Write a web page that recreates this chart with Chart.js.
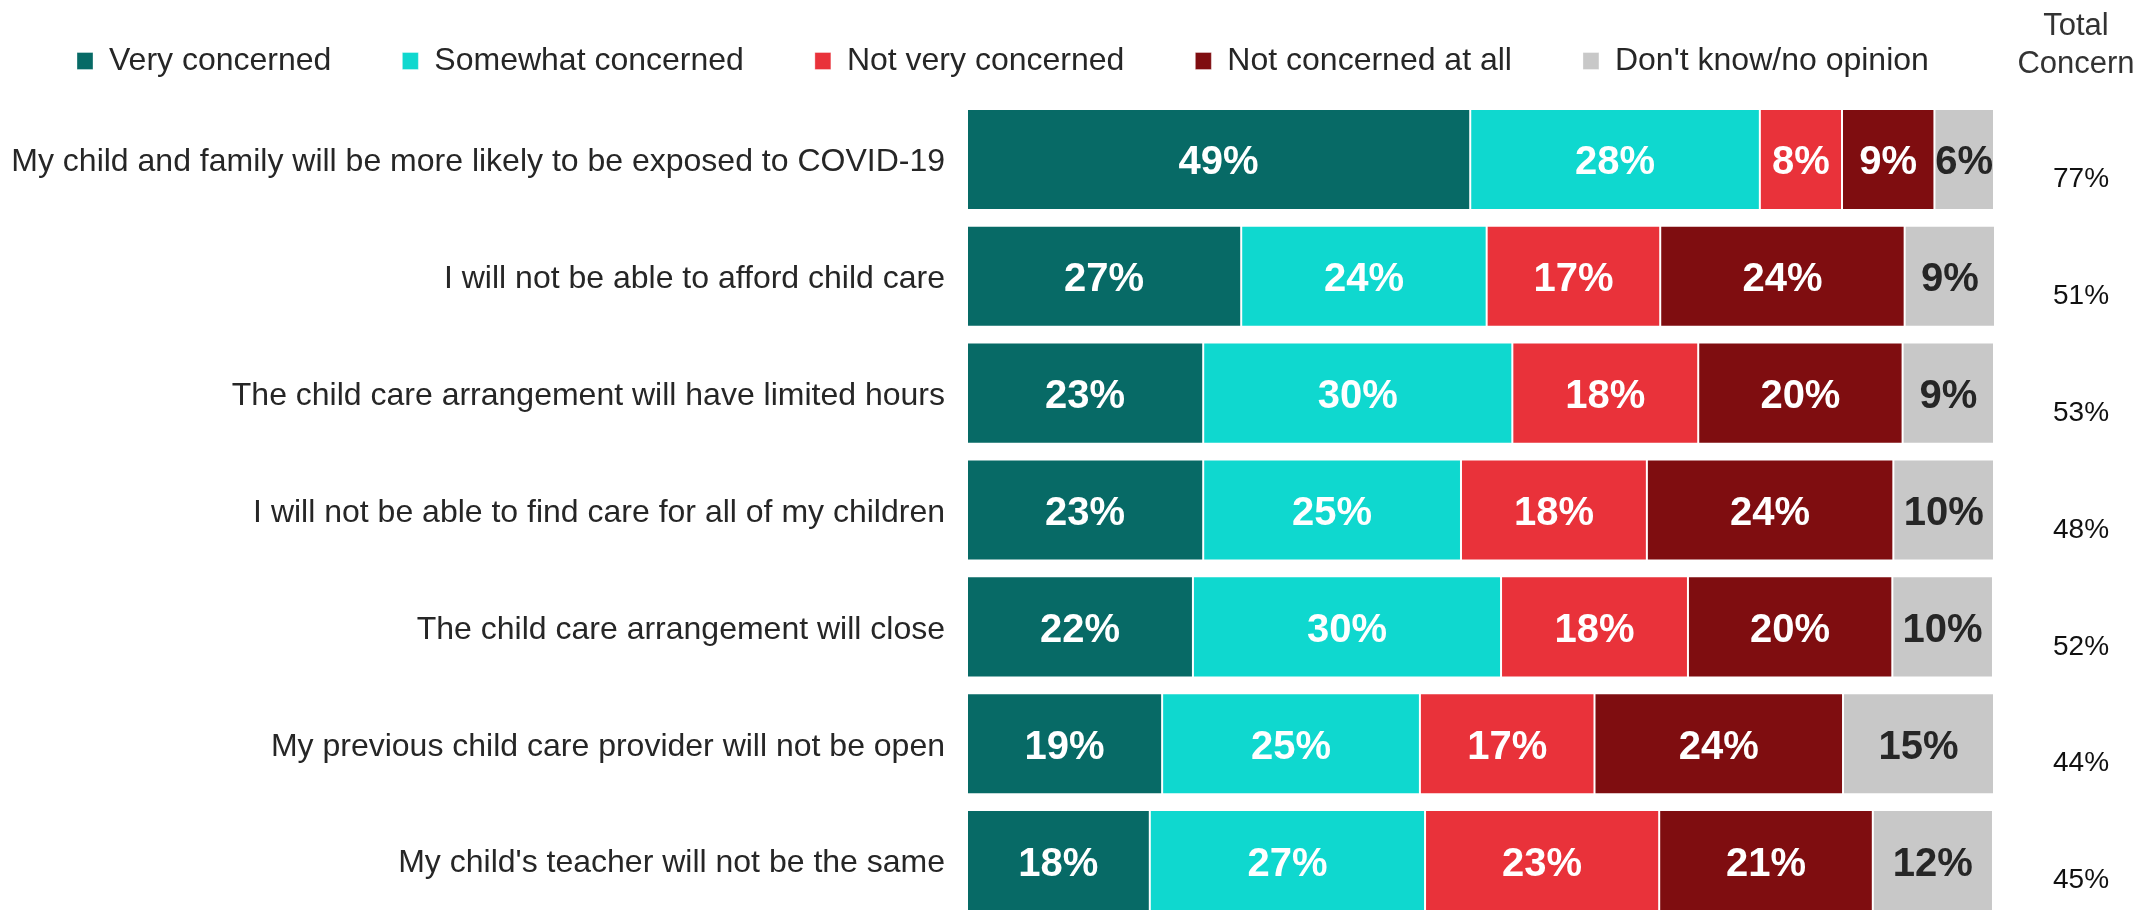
<!DOCTYPE html>
<html>
<head>
<meta charset="utf-8">
<script src="https://cdn.jsdelivr.net/npm/chart.js@4/dist/chart.umd.min.js"></script>
<style>
    html, body { margin: 0; padding: 0; background: #fff; overflow: hidden; }
    #wrap { width: 2139px; height: 919px; position: relative; }
</style>
</head>
<body>
<div id="wrap"><canvas id="concernChart"></canvas></div>
<script>
// categories (top to bottom)
const categories = [
    'My child and family will be more likely to be exposed to COVID-19',
    'I will not be able to afford child care',
    'The child care arrangement will have limited hours',
    'I will not be able to find care for all of my children',
    'The child care arrangement will close',
    'My previous child care provider will not be open',
    "My child's teacher will not be the same"
];

// series values (%)
const veryConcerned     = [49.0, 26.7, 23.0, 23.0, 22.0, 19.0, 17.8];
const somewhatConcerned = [28.2, 23.9, 30.1, 25.1, 30.0, 25.1, 26.8];
const notVeryConcerned  = [8.0, 16.9, 18.1, 18.1, 18.2, 17.0, 22.8];
const notConcernedAtAll = [9.0, 23.8, 19.9, 24.0, 19.9, 24.2, 20.8];
const dontKnow          = [5.8, 8.8, 8.9, 9.8, 9.8, 14.7, 11.7];

// right hand column
const totalConcern = [77, 51, 53, 48, 52, 44, 45];
const totalHeader = ['Total', 'Concern'];

const seriesNames = ['Very concerned', 'Somewhat concerned', 'Not very concerned', 'Not concerned at all', "Don't know/no opinion"];
const seriesColors = ['#076a66', '#0fd8cf', '#e9323a', '#7f0d10', '#c8c8c8'];
const seriesData = [veryConcerned, somewhatConcerned, notVeryConcerned, notConcernedAtAll, dontKnow];

const FONT = "'Liberation Sans', Arial, sans-serif";

// value labels inside the segments + "Total Concern" header
const labelPlugin = {
    id: 'segLabels',
    afterDatasetsDraw(chart) {
        const ctx = chart.ctx;
        ctx.save();
        ctx.font = 'bold 40px ' + FONT;
        ctx.textAlign = 'center';
        ctx.textBaseline = 'middle';
        chart.data.datasets.forEach((ds, di) => {
            const meta = chart.getDatasetMeta(di);
            ctx.fillStyle = di === 4 ? '#262626' : '#ffffff';
            meta.data.forEach((bar, i) => {
                const c = bar.getCenterPoint();
                ctx.fillText(Math.round(ds.data[i]) + '%', c.x, c.y + 4);
            });
        });

        ctx.font = '31px ' + FONT;
        ctx.fillStyle = '#333333';
        ctx.fillText(totalHeader[0], 2076, 26);
        ctx.fillText(totalHeader[1], 2076, 64);
        ctx.restore();
    }
};

// y axes: fixed width, no extra vertical padding from the tick labels
const fixAxis = w => s => {
    s.width = w;
    s.paddingTop = 0;
    s.paddingBottom = 0;
};

new Chart(document.getElementById('concernChart'), {
    type: 'bar',
    data: {
        labels: categories,
        datasets: seriesData.map((d, i) => ({
            label: seriesNames[i],
            data: d,
            backgroundColor: seriesColors[i],
            borderColor: 'rgba(255,255,255,0.35)',
            borderWidth: 1,
            borderSkipped: false,
            categoryPercentage: 1,
            barPercentage: 0.865,
            yAxisID: 'y'
        }))
    },
    options: {
        indexAxis: 'y',
        responsive: true,
        maintainAspectRatio: false,
        animation: false,
        layout: { padding: { top: -26, left: 6, right: 0, bottom: 0 } },
        plugins: {
            tooltip: { enabled: false },
            legend: {
                position: 'top',
                align: 'start',
                labels: {
                    boxWidth: 16,
                    boxHeight: 17,
                    padding: 71,
                    color: '#262626',
                    font: { family: FONT, size: 32 }
                }
            }
        },
        scales: {
            x: {
                position: 'top',
                stacked: true,
                min: 0,
                max: 100,
                grid: { display: false, drawTicks: false },
                border: { display: false },
                ticks: { display: false },
                afterFit: s => { s.height = 14; }
            },
            y: {
                stacked: true,
                grid: { display: false, drawTicks: false },
                border: { display: false },
                ticks: {
                    padding: 22,
                    labelOffset: 3,
                    color: '#262626',
                    font: { family: FONT, size: 32 }
                },
                afterFit: fixAxis(961)
            },
            yTotal: {
                type: 'category',
                position: 'right',
                labels: totalConcern.map(v => v + '%'),
                offset: true,
                grid: { display: false, drawTicks: false },
                border: { display: false },
                ticks: {
                    autoSkip: false,
                    padding: 59,
                    labelOffset: 20,
                    color: '#111111',
                    font: { family: FONT, size: 28 }
                },
                afterFit: fixAxis(145)
            }
        }
    },
    plugins: [labelPlugin]
});
</script>
</body>
</html>
